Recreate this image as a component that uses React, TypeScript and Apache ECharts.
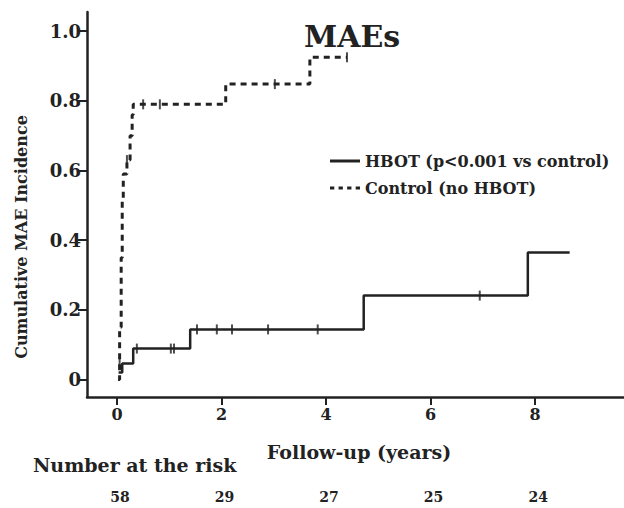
import React, { useEffect, useRef } from "react";
import * as echarts from "echarts";

const FONT = "DejaVu Serif";
const INK = "#222222";

// Kaplan–Meier style cumulative incidence (time in years, value after the step)
const hbotTimes = [0.03, 0.1, 0.31, 1.4, 4.72, 7.86, 8.66];
const hbotValues = [0.02, 0.046, 0.089, 0.144, 0.241, 0.365, 0.365];

const controlTimes = [0.02, 0.05, 0.08, 0.1, 0.12, 0.19, 0.25, 0.29, 0.31, 2.08, 3.69, 4.4];
const controlValues = [0.0, 0.15, 0.35, 0.52, 0.59, 0.63, 0.7, 0.76, 0.79, 0.848, 0.925, 0.925];

// censoring marks
const hbotCensorTimes = [0.05, 0.38, 1.03, 1.09, 1.53, 1.91, 2.2, 2.89, 3.84, 6.94];
const hbotCensorValues = [0.046, 0.089, 0.089, 0.089, 0.144, 0.144, 0.144, 0.144, 0.144, 0.241];
const controlCensorTimes = [0.19, 0.5, 0.82, 3.02, 4.4];
const controlCensorValues = [0.63, 0.79, 0.79, 0.848, 0.925];

const xTicks = [0, 2, 4, 6, 8];
const yTicks = [0, 0.2, 0.4, 0.6, 0.8, 1.0];
const riskTimes = [0, 2, 4, 6, 8];
const riskCounts = ["58", "29", "27", "25", "24"];

const seriesNames = ["HBOT (p<0.001 vs control)", "Control (no HBOT)"];

const zip = (a: number[], b: number[]) => a.map((v, i) => [v, b[i]]);

export default function App() {
  const ref = useRef<HTMLDivElement>(null);
  useEffect(() => {
    if (!ref.current) return;
    const chart = echarts.init(ref.current, null, { renderer: "svg" });
    const riskMap: Record<string, string> = {};
    riskTimes.forEach((t, i) => (riskMap[String(t)] = riskCounts[i]));
    chart.setOption({
      animation: false,
      backgroundColor: "#ffffff",
      textStyle: { fontFamily: FONT, color: INK },
      title: {
        text: "MAEs",
        left: 299,
        top: 16,
        textStyle: { fontFamily: FONT, fontSize: 30, fontWeight: "bold", color: INK },
      },
      legend: {
        orient: "vertical",
        left: 325,
        top: 148,
        itemWidth: 30,
        itemHeight: 14,
        itemGap: 11,
        textStyle: { fontFamily: FONT, fontSize: 16, fontWeight: "bold", color: INK },
        data: [
          { name: seriesNames[0], icon: "path://M0,0h30v3h-30z", itemStyle: { color: INK } },
          {
            name: seriesNames[1],
            icon: "path://M0,0h4v3h-4zM8,0h4v3h-4zM16,0h4v3h-4zM24,0h4v3h-4z",
            itemStyle: { color: INK },
          },
        ],
      },
      graphic: [
        {
          type: "text",
          left: 33,
          top: 455,
          style: {
            text: "Number at the risk",
            font: `bold 19px "${FONT}"`,
            fill: INK,
          },
        },
        {
          type: "text",
          x: 21,
          y: 237,
          rotation: Math.PI / 2,
          style: {
            text: "Cumulative MAE Incidence",
            font: `bold 16px "${FONT}"`,
            fill: INK,
            align: "center",
            verticalAlign: "middle",
          },
        },
      ],
      grid: { left: 87, right: 0, top: 12, bottom: 111, containLabel: false },
      xAxis: [
        {
          type: "value",
          min: -0.574,
          max: 9.7,
          splitLine: { show: false },
          axisLine: { onZero: false, lineStyle: { color: INK, width: 2.5 } },
          axisTick: { show: true, length: 8, customValues: xTicks, lineStyle: { color: INK, width: 2 } },
          axisLabel: {
            customValues: xTicks,
            margin: 9,
            fontFamily: FONT,
            fontSize: 16,
            fontWeight: "bold",
            color: INK,
          },
          name: "Follow-up (years)",
          nameLocation: "middle",
          nameGap: 45,
          nameTextStyle: { fontFamily: FONT, fontSize: 19, fontWeight: "bold", color: INK, padding: [0, 0, 0, 7] },
        },
        {
          type: "value",
          position: "bottom",
          offset: 93,
          min: -0.574,
          max: 9.7,
          splitLine: { show: false },
          axisLine: { show: false, onZero: false },
          axisTick: { show: false },
          axisLabel: {
            customValues: riskTimes,
            margin: 0,
            fontFamily: FONT,
            fontSize: 14,
            fontWeight: "bold",
            color: INK,
            padding: [0, 0, 0, 6],
            formatter: (v: number) => riskMap[String(v)] ?? "",
          },
        },
      ],
      yAxis: {
        type: "value",
        min: -0.05,
        max: 1.055,
        splitLine: { show: false },
        axisLine: { onZero: false, lineStyle: { color: INK, width: 2.5 } },
        axisTick: { show: true, length: 9, customValues: yTicks, lineStyle: { color: INK, width: 2 } },
        axisLabel: {
          customValues: yTicks,
          margin: 6,
          fontFamily: FONT,
          fontSize: 18,
          fontWeight: "bold",
          color: INK,
          formatter: (v: number) => (v === 0 ? "0" : v.toFixed(1)),
        },
      },
      series: [
        {
          name: seriesNames[0],
          type: "line",
          step: "end",
          symbol: "none",
          data: zip(hbotTimes, hbotValues),
          lineStyle: { color: INK, width: 2.5 },
          itemStyle: { color: INK },
        },
        {
          name: seriesNames[1],
          type: "line",
          step: "end",
          symbol: "none",
          data: zip(controlTimes, controlValues),
          lineStyle: { color: INK, width: 3, type: [6, 5] },
          itemStyle: { color: INK },
        },
        {
          name: "HBOT censored",
          type: "scatter",
          symbol: "rect",
          symbolSize: [2, 10],
          data: zip(hbotCensorTimes, hbotCensorValues),
          itemStyle: { color: INK },
        },
        {
          name: "Control censored",
          type: "scatter",
          symbol: "rect",
          symbolSize: [2, 10],
          data: zip(controlCensorTimes, controlCensorValues),
          itemStyle: { color: INK },
        },
      ],
    });
    return () => chart.dispose();
  }, []);
  return (
    <div
      ref={ref}
      style={{ position: "fixed", left: 0, top: 0, width: 624, height: 508, background: "#fff" }}
    />
  );
}
